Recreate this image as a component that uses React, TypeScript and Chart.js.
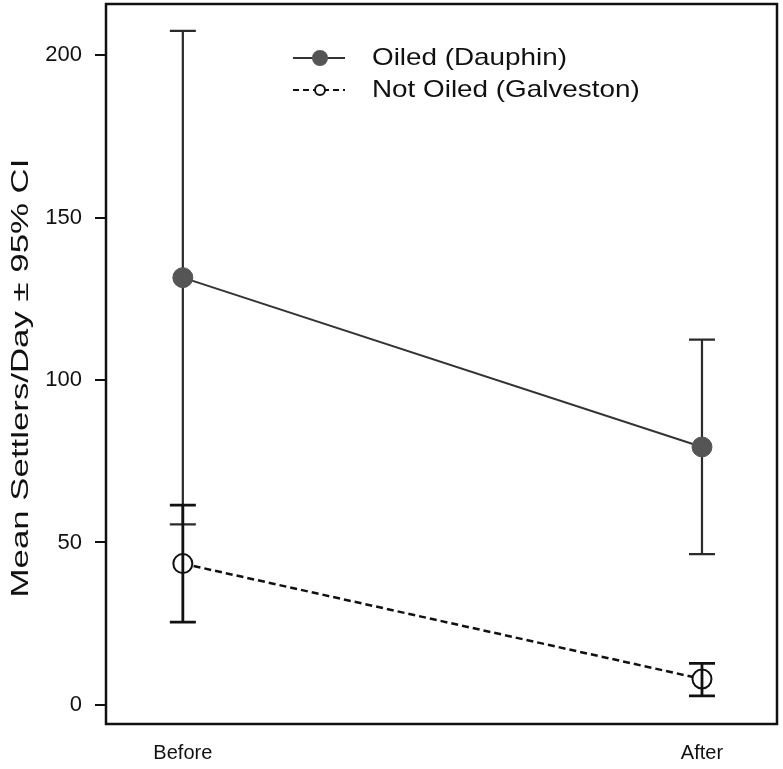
import React, { useEffect, useRef } from "react";
import { Chart, registerables } from "chart.js";

Chart.register(...registerables);

const categories = ["Before", "After"];
const seriesLabels = ["Oiled (Dauphin)", "Not Oiled (Galveston)"];
const oiledMean = [131.5, 79.4];
const oiledLower = [55.6, 46.4];
const oiledUpper = [207.4, 112.4];
const notOiledMean = [43.5, 8.0];
const notOiledLower = [25.5, 2.8];
const notOiledUpper = [61.5, 12.8];
const yTicks = [0, 50, 100, 150, 200];
const yTitle = "Mean Settlers/Day \u00B1 95% CI";

const FONT = "'Liberation Sans', Arial, Helvetica, sans-serif";

const errorBars = [
  { lower: oiledLower, upper: oiledUpper, color: "#2a2a2a", width: 2.2, after: false },
  { lower: notOiledLower, upper: notOiledUpper, color: "#111", width: 2.8, after: true },
];

function drawBars(chart: any, after: boolean) {
  const ctx = chart.ctx;
  const xs = chart.scales.x;
  const ys = chart.scales.y;
  ctx.save();
  errorBars.forEach((eb) => {
    if (eb.after !== after) return;
    ctx.strokeStyle = eb.color;
    ctx.lineWidth = eb.width;
    eb.lower.forEach((lo, i) => {
      const x = xs.getPixelForValue(i);
      const y1 = ys.getPixelForValue(lo);
      const y2 = ys.getPixelForValue(eb.upper[i]);
      const cap = 13;
      ctx.beginPath();
      ctx.moveTo(x, y1);
      ctx.lineTo(x, y2);
      ctx.moveTo(x - cap, y1);
      ctx.lineTo(x + cap, y1);
      ctx.moveTo(x - cap, y2);
      ctx.lineTo(x + cap, y2);
      ctx.stroke();
    });
  });
  ctx.restore();
}

const errorBarPlugin = {
  id: "errorBars",
  beforeDatasetsDraw(chart: any) {
    drawBars(chart, false);
  },
  afterDatasetsDraw(chart: any) {
    drawBars(chart, true);
  },
};

const boxPlugin = {
  id: "box",
  afterDraw(chart: any) {
    const { ctx, chartArea } = chart;
    ctx.save();
    ctx.strokeStyle = "#111";
    ctx.lineWidth = 2.5;
    ctx.strokeRect(chartArea.left, chartArea.top, chartArea.right - chartArea.left, chartArea.bottom - chartArea.top);
    const cy = (chartArea.top + chartArea.bottom) / 2 + 14;
    ctx.translate(21, cy);
    ctx.rotate(-Math.PI / 2);
    ctx.scale(1.45, 1);
    ctx.fillStyle = "#111";
    ctx.font = `24px ${FONT}`;
    ctx.textAlign = "center";
    ctx.textBaseline = "middle";
    ctx.fillText(yTitle, 0, 0);
    ctx.restore();
  },
};

const legendPlugin = {
  id: "customLegend",
  afterDraw(chart: any) {
    const ctx = chart.ctx;
    const rows = [
      { y: 58, dash: [] as number[], color: "#333", lw: 2, r: 7, fill: "#555", stroke: "#555" },
      { y: 90, dash: [6, 4], color: "#111", lw: 2, r: 5, fill: "#fff", stroke: "#111" },
    ];
    ctx.save();
    rows.forEach((row, i) => {
      ctx.strokeStyle = row.color;
      ctx.lineWidth = row.lw;
      ctx.setLineDash(row.dash);
      ctx.beginPath();
      ctx.moveTo(293, row.y);
      ctx.lineTo(345, row.y);
      ctx.stroke();
      ctx.setLineDash([]);
      ctx.beginPath();
      ctx.arc(320, row.y, row.r, 0, Math.PI * 2);
      ctx.fillStyle = row.fill;
      ctx.fill();
      ctx.strokeStyle = row.stroke;
      ctx.lineWidth = 2;
      ctx.stroke();
      ctx.save();
      ctx.translate(372, row.y);
      ctx.scale(1.16, 1);
      ctx.fillStyle = "#111";
      ctx.font = `24px ${FONT}`;
      ctx.textAlign = "left";
      ctx.textBaseline = "middle";
      ctx.fillText(seriesLabels[i], 0, 0);
      ctx.restore();
    });
    ctx.restore();
  },
};

export default function App() {
  const ref = useRef<HTMLCanvasElement | null>(null);
  useEffect(() => {
    document.body.style.margin = "0";
    const canvas = ref.current;
    if (!canvas) return;
    const chart = new Chart(canvas, {
      type: "line",
      data: {
        datasets: [
          {
            label: seriesLabels[0],
            data: oiledMean.map((v, i) => ({ x: i, y: v })),
            borderColor: "#333",
            borderWidth: 2,
            pointRadius: 10,
            pointBackgroundColor: "#555",
            pointBorderColor: "#555",
            pointBorderWidth: 1,
            fill: false,
            tension: 0,
          },
          {
            label: seriesLabels[1],
            data: notOiledMean.map((v, i) => ({ x: i, y: v })),
            borderColor: "#111",
            borderWidth: 2.5,
            borderDash: [7, 4],
            pointRadius: 9.5,
            pointBackgroundColor: "#fff",
            pointBorderColor: "#111",
            pointBorderWidth: 2,
            fill: false,
            tension: 0,
          },
        ],
      },
      options: {
        responsive: false,
        animation: false,
        devicePixelRatio: 1,
        layout: { autoPadding: false, padding: { top: 4, right: 6, left: 0, bottom: 0 } },
        plugins: { legend: { display: false }, tooltip: { enabled: false } },
        scales: {
          x: {
            type: "linear",
            min: -0.148,
            max: 1.1445,
            afterBuildTicks: (s: any) => {
              s.ticks = categories.map((_, i) => ({ value: i }));
            },
            afterFit: (s: any) => {
              s.height = 45;
              s.paddingLeft = 0;
              s.paddingRight = 0;
            },
            grid: { display: false, drawTicks: false },
            border: { display: false },
            ticks: {
              padding: 17,
              color: "#111",
              maxRotation: 0,
              autoSkip: false,
              font: { family: FONT, size: 20 },
              callback: (v: any) => categories[v] ?? "",
            },
          },
          y: {
            type: "linear",
            min: -5.85,
            max: 215.7,
            afterBuildTicks: (s: any) => {
              s.ticks = yTicks.map((v) => ({ value: v }));
            },
            afterFit: (s: any) => {
              s.width = 106;
              s.paddingTop = 0;
              s.paddingBottom = 0;
            },
            grid: { drawOnChartArea: false, drawTicks: true, tickLength: 11, color: "#111", lineWidth: 2 },
            border: { display: false },
            ticks: { padding: 13, color: "#111", font: { family: FONT, size: 22 } },
            title: { display: false },
          },
        },
      },
      plugins: [errorBarPlugin, boxPlugin, legendPlugin],
    });
    return () => chart.destroy();
  }, []);
  return (
    <div style={{ width: 783, height: 769 }}>
      <canvas ref={ref} width={783} height={769} />
    </div>
  );
}
